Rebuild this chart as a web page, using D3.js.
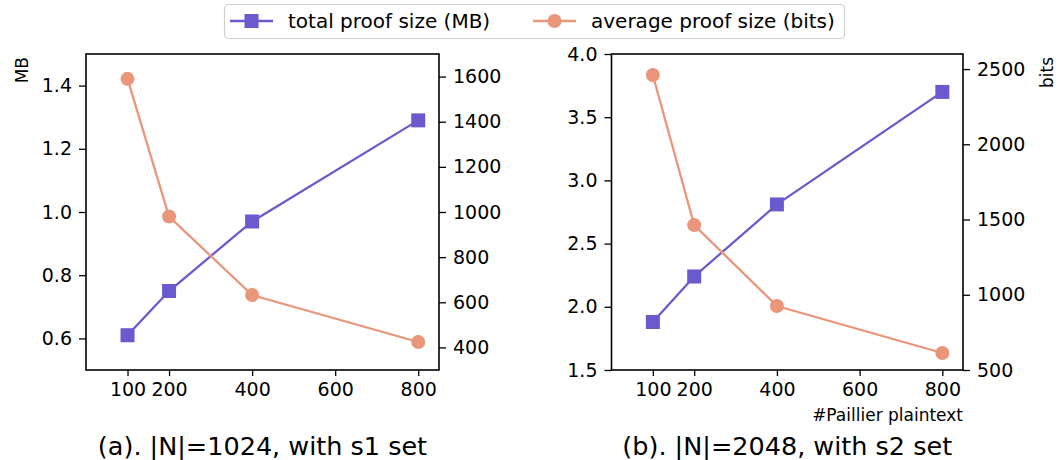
<!DOCTYPE html>
<html>
<head>
<meta charset="utf-8">
<script src="https://cdn.jsdelivr.net/npm/d3@7"></script>
<style>
  body { margin: 0; background: #fff; }
  svg { display: block; font-family: "DejaVu Sans", sans-serif; }
  .tick text { font-size: 19px; fill: #000; }
  .tick line { stroke: #000; stroke-width: 1.3; }
</style>
</head>
<body>
<svg width="1059" height="460"></svg>
<script>
const svg = d3.select("svg"),
      width = +svg.attr("width"),
      height = +svg.attr("height");

// data
const plaintexts = [100, 200, 400, 800];
const xTicks = [100, 200, 400, 600, 800];

const totalMB_a = [0.61, 0.75, 0.97, 1.29];
const avgBits_a = [1590, 980, 632, 424];
const totalMB_b = [1.88, 2.24, 2.81, 3.70];
const avgBits_b = [2460, 1463, 925, 613];

const mbTicks_a = [0.6, 0.8, 1.0, 1.2, 1.4];
const bitTicks_a = [400, 600, 800, 1000, 1200, 1400, 1600];
const mbTicks_b = [1.5, 2.0, 2.5, 3.0, 3.5, 4.0];
const bitTicks_b = [500, 1000, 1500, 2000, 2500];

const captions = ["(a). |N|=1024, with s1 set", "(b). |N|=2048, with s2 set"];
const legendLabels = ["total proof size (MB)", "average proof size (bits)"];

const colors = {
  mb: "#6a5acd",
  bits: "#e9967a"
}

const plotTop = 54, plotBottom = 370;

const panels = [
  {x0: 86, x1: 439, mb: totalMB_a, bits: avgBits_a, mbDom: [0.5, 1.5], bitDom: [300, 1700],
   mbTicks: mbTicks_a, bitTicks: bitTicks_a, caption: captions[0]},
  {x0: 611.5, x1: 963, mb: totalMB_b, bits: avgBits_b, mbDom: [1.5, 4.0], bitDom: [500, 2600],
   mbTicks: mbTicks_b, bitTicks: bitTicks_b, caption: captions[1]}
];

svg.append("rect").attr("width", width).attr("height", height).attr("fill", "#fff");

panels.forEach(function(p, i) {
  const x = d3.scaleLinear().domain([0, 850]).range([p.x0, p.x1]);
  const yL = d3.scaleLinear().domain(p.mbDom).range([plotBottom, plotTop]);
  const yR = d3.scaleLinear().domain(p.bitDom).range([plotBottom, plotTop]);
  const g = svg.append("g");

  const styleAxis = function(sel) {
    sel.select(".domain").remove();
  }

  g.append("g").attr("transform", `translate(0,${plotBottom})`)
    .call(d3.axisBottom(x).tickValues(xTicks).tickFormat(d3.format("d")).tickSize(6).tickPadding(7))
    .call(styleAxis);
  g.append("g").attr("transform", `translate(${p.x0},0)`)
    .call(d3.axisLeft(yL).tickValues(p.mbTicks).tickFormat(d3.format(".1f")).tickSize(7).tickPadding(7))
    .call(styleAxis);
  g.append("g").attr("transform", `translate(${p.x1},0)`)
    .call(d3.axisRight(yR).tickValues(p.bitTicks).tickFormat(d3.format("d")).tickSize(7).tickPadding(7))
    .call(styleAxis);
  g.selectAll("g").attr("font-family", null).attr("font-size", null);

  // total proof size
  const rows = plaintexts.map((v, k) => ({x: v, mb: p.mb[k], bits: p.bits[k]}));
  g.append("path").datum(rows)
    .attr("fill", "none").attr("stroke", colors.mb).attr("stroke-width", 2.3)
    .attr("d", d3.line().x(d => x(d.x)).y(d => yL(d.mb)));
  g.selectAll(".sq").data(rows).enter().append("rect")
    .attr("x", d => x(d.x) - 7).attr("y", d => yL(d.mb) - 7)
    .attr("width", 14).attr("height", 14).attr("fill", colors.mb);

  // average proof size
  g.append("path").datum(rows)
    .attr("fill", "none").attr("stroke", colors.bits).attr("stroke-width", 2.3)
    .attr("d", d3.line().x(d => x(d.x)).y(d => yR(d.bits)));
  g.selectAll(".dot").data(rows).enter().append("circle")
    .attr("cx", d => x(d.x)).attr("cy", d => yR(d.bits))
    .attr("r", 7).attr("fill", colors.bits);

  // frame
  g.append("rect").attr("x", p.x0).attr("y", plotTop)
    .attr("width", p.x1 - p.x0).attr("height", plotBottom - plotTop)
    .attr("fill", "none").attr("stroke", "#000").attr("stroke-width", 1.6);

  g.append("text").attr("x", (p.x0 + p.x1) / 2).attr("y", 455)
    .attr("text-anchor", "middle").attr("font-size", 25.5).text(p.caption);
});

// axis labels
svg.append("text").attr("transform", "translate(28,57) rotate(-90)")
  .attr("text-anchor", "end").attr("font-size", 17).text("MB");
svg.append("text").attr("transform", "translate(1053,57) rotate(-90)")
  .attr("text-anchor", "end").attr("font-size", 17).text("bits");
svg.append("text").attr("x", 963).attr("y", 421)
  .attr("text-anchor", "end").attr("font-size", 17).text("#Paillier plaintext");

// legend
const legend = svg.append("g");
legend.append("rect").attr("x", 224.5).attr("y", 4.5).attr("width", 620).attr("height", 34)
  .attr("rx", 4).attr("fill", "#fff").attr("stroke", "#d0d0d0").attr("stroke-width", 1.2);
const legendItems = [
  {label: legendLabels[0], color: colors.mb, shape: "square", x: 230, tx: 288},
  {label: legendLabels[1], color: colors.bits, shape: "circle", x: 533, tx: 591}
];
legendItems.forEach(function(it) {
  legend.append("line").attr("x1", it.x).attr("x2", it.x + 43).attr("y1", 21).attr("y2", 21)
    .attr("stroke", it.color).attr("stroke-width", 2.3);
  if (it.shape == "square") {
    legend.append("rect").attr("x", it.x + 21.5 - 7).attr("y", 14).attr("width", 14).attr("height", 14)
      .attr("fill", it.color);
  } else {
    legend.append("circle").attr("cx", it.x + 21.5).attr("cy", 21).attr("r", 7).attr("fill", it.color);
  }
  legend.append("text").attr("x", it.tx).attr("y", 21).attr("dy", "0.35em")
    .attr("font-size", 20).text(it.label);
});
</script>
</body>
</html>
